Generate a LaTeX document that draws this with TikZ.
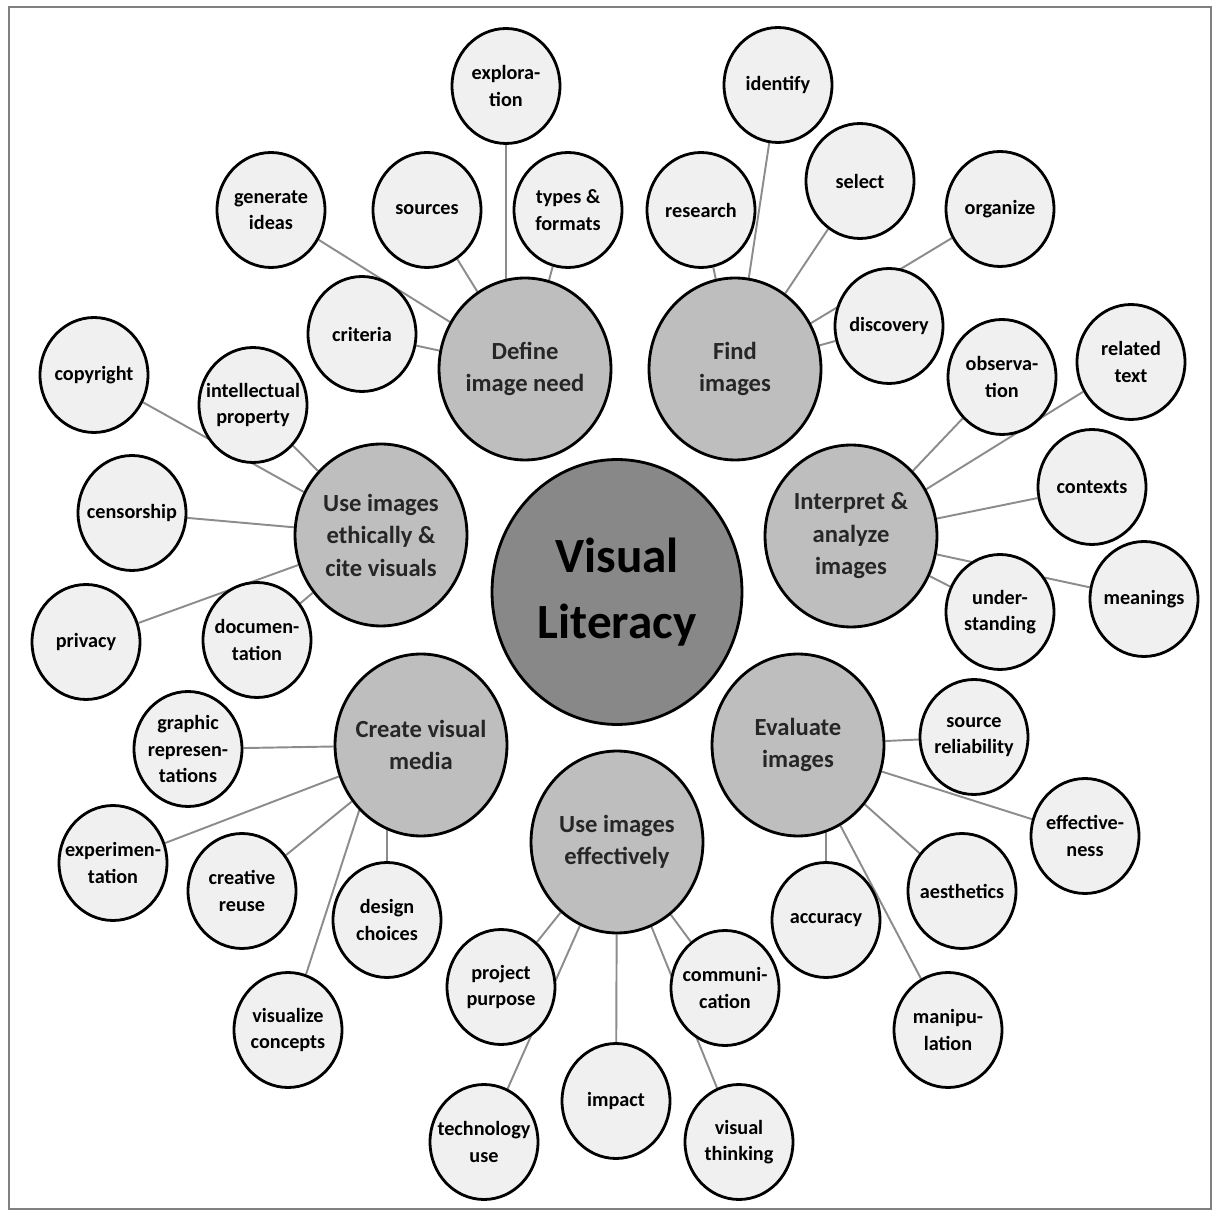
\documentclass[tikz,border=0pt]{standalone}
\usepackage{fontspec}
\setmainfont{Carlito}
\usetikzlibrary{shapes.geometric,backgrounds}
\definecolor{leaffill}{RGB}{240,240,240}
\definecolor{topicfill}{RGB}{190,190,190}
\definecolor{hubfill}{RGB}{136,136,136}
\definecolor{linkgray}{RGB}{140,140,140}
\begin{document}
\begin{tikzpicture}[
  x=0.02cm, y=-0.02cm,
  bubble/.style={ellipse, draw=black, line width=1.6pt, inner sep=0pt},
  leaftxt/.style={align=center, font=\bfseries\fontsize{11.5}{15}\selectfont},
  topictxt/.style={align=center, font=\bfseries\fontsize{14}{18.5}\selectfont, text=black!85},
  hubtxt/.style={align=center, font=\bfseries\fontsize{28}{38}\selectfont},
  leaf/.style={bubble, fill=leaffill, minimum width=2.16cm, minimum height=2.3cm,
    label={[leaftxt]center:#1}},
  topic/.style={bubble, fill=topicfill, minimum width=3.44cm, minimum height=3.64cm,
    label={[topictxt]center:#1}},
  hub/.style={bubble, fill=hubfill, minimum width=5cm, minimum height=5.3cm,
    label={[hubtxt]center:#1}},
  link/.style={draw=linkgray, line width=1.1pt}
]
  \useasboundingbox (0,0) rectangle (1221,1212);
  \draw[draw=gray, line width=1.4pt] (9,7) rectangle (1211,1209);

  % centre and topics
  \node[hub={Visual\\Literacy}] (hub) at (617,592) {};
  \node[topic={Define\\image need}] (def) at (525,369) {};
  \node[topic={Find\\images}] (find) at (735,369) {};
  \node[topic={Use images\\ethically \&\\cite visuals}] (ethic) at (381,535) {};
  \node[topic={Interpret \&\\analyze\\images}] (interp) at (851,536) {};
  \node[topic={Create visual\\media}] (create) at (421,745) {};
  \node[topic={Evaluate\\images}] (eval) at (798,745) {};
  \node[topic={Use images\\effectively}] (effect) at (617,842) {};

  % leaves
  \node[leaf={explora-\\tion}] (explor) at (506,86) {};
  \node[leaf={generate\\ideas}] (gen) at (271,210) {};
  \node[leaf={sources}] (src) at (427,210) {};
  \node[leaf={types \&\\formats}] (types) at (568,210) {};
  \node[leaf={criteria}] (crit) at (362,334) {};

  \node[leaf={identify}] (ident) at (778,85) {};
  \node[leaf={research}] (res) at (701,210) {};
  \node[leaf={select}] (sel) at (860,181) {};
  \node[leaf={organize}] (org) at (1000,209) {};
  \node[leaf={discovery}] (disc) at (889,326) {};

  \node[leaf={observa-\\tion}] (obs) at (1002,377) {};
  \node[leaf={related\\text}] (rel) at (1131,362) {};
  \node[leaf={contexts}] (ctx) at (1092,487) {};
  \node[leaf={under-\\standing}] (und) at (1000,612) {};
  \node[leaf={meanings}] (mean) at (1144,599) {};

  \node[leaf={copyright}] (copy) at (94,375) {};
  \node[leaf={intellectual\\property}] (ip) at (253,405) {};
  \node[leaf={censorship}] (cens) at (132,513) {};
  \node[leaf={privacy}] (priv) at (86,642) {};
  \node[leaf={documen-\\tation}] (doc) at (257,640) {};

  \node[leaf={graphic\\represen-\\tations}] (graph) at (188,749) {};
  \node[leaf={experimen-\\tation}] (exper) at (113,863) {};
  \node[leaf={creative\\reuse}] (reuse) at (242,891) {};
  \node[leaf={design\\choices}] (design) at (387,920) {};
  \node[leaf={visualize\\concepts}] (vis) at (288,1030) {};

  \node[leaf={source\\reliability}] (srcrel) at (974,737) {};
  \node[leaf={effective-\\ness}] (effness) at (1085,836) {};
  \node[leaf={aesthetics}] (aes) at (962,891) {};
  \node[leaf={accuracy}] (acc) at (826,920) {};
  \node[leaf={manipu-\\lation}] (manip) at (948,1030) {};

  \node[leaf={project\\purpose}] (proj) at (501,987) {};
  \node[leaf={communi-\\cation}] (comm) at (725,988) {};
  \node[leaf={impact}] (impact) at (616,1101) {};
  \node[leaf={technology\\use}] (tech) at (484,1142) {};
  \node[leaf={visual\\thinking}] (think) at (739,1142) {};

  % connectors
  \begin{scope}[on background layer]
    \draw[link] (explor) -- (explor |- def);
    \draw[link] (gen) -- (def);
    \draw[link] (src) -- (def);
    \draw[link] (types) -- (def);
    \draw[link] (crit) -- (def);

    \draw[link] (ident) -- (find);
    \draw[link] (res) -- (find);
    \draw[link] (sel) -- (find);
    \draw[link] (org) -- (find);
    \draw[link] (disc) -- (find);

    \draw[link] (obs) -- (interp);
    \draw[link] (rel) -- (interp);
    \draw[link] (ctx) -- (interp);
    \draw[link] (und) -- (interp);
    \draw[link] (mean) -- (interp);

    \draw[link] (copy) -- (ethic);
    \draw[link] (ip) -- (ethic);
    \draw[link] (cens) -- (ethic);
    \draw[link] (priv) -- (ethic);
    \draw[link] (doc) -- (ethic);

    \draw[link] (graph) -- (create);
    \draw[link] (exper) -- (create);
    \draw[link] (reuse) -- (create);
    \draw[link] (design) -- (design |- create);
    \draw[link] (vis) -- (create.south west);

    \draw[link] (srcrel) -- (eval);
    \draw[link] (effness) -- (eval);
    \draw[link] (aes) -- (eval);
    \draw[link] (acc) -- (acc |- eval);
    \draw[link] (manip) -- (eval);

    \draw[link] (proj) -- (effect);
    \draw[link] (comm) -- (effect);
    \draw[link] (impact) -- (effect);
    \draw[link] (tech) -- (effect);
    \draw[link] (think) -- (effect);
  \end{scope}
\end{tikzpicture}
\end{document}
